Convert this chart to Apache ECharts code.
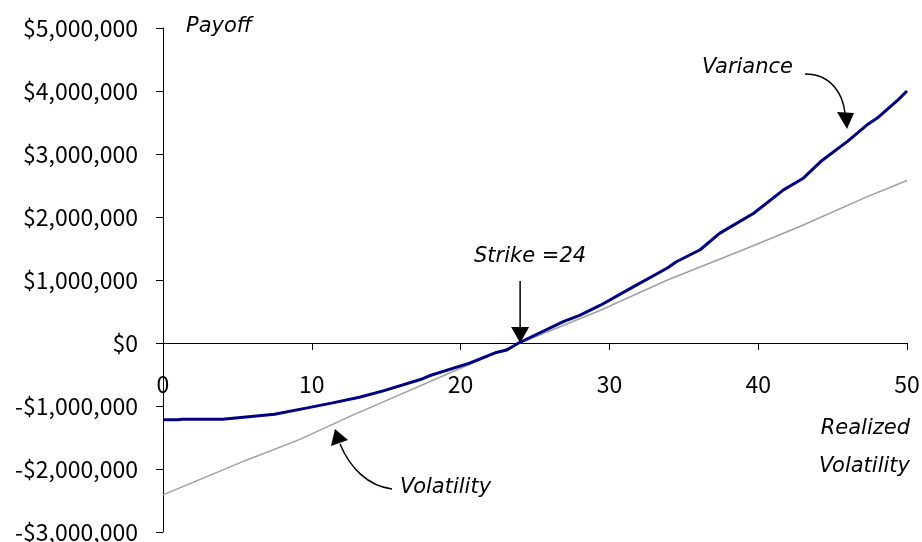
<!DOCTYPE html>
<html>
<head>
<meta charset="utf-8">
<script src="https://cdn.jsdelivr.net/npm/echarts@6/dist/echarts.min.js"></script>
<style>
  html, body { margin: 0; background: #fff; }
  #main { width: 922px; height: 542px; }
</style>
</head>
<body>
<div id="main"></div>
<script>
// realized volatility (x) and payoff in $ (y)
const varianceVol = [0, 1, 1.3, 4, 7.5, 9.7, 11.4, 13.2, 14.8, 17.3, 17.9, 20.6, 22.4, 23.1, 23.9,
  26.9, 28.0, 29.4, 31.6, 33.9, 34.5, 36.1, 37.4, 39.7, 41.7, 43.0, 44.2, 46.0, 47.3, 48.0, 49.4, 50];
const variancePayoff = [-1220000, -1220000, -1210000, -1210000, -1130000, -1030000, -950000, -860000,
  -760000, -580000, -520000, -320000, -150000, -110000, 0, 340000, 440000, 600000, 890000, 1190000,
  1290000, 1480000, 1740000, 2060000, 2430000, 2610000, 2880000, 3200000, 3460000, 3570000, 3860000, 4000000];
const volatilityVol = [0, 5.6, 9.2, 12.6, 20, 22.4, 24, 29.4, 33.9, 39, 42.8, 47.3, 50];
const volatilityPayoff = [-2410000, -1860000, -1530000, -1160000, -400000, -160000, 0,
  520000, 1000000, 1480000, 1850000, 2320000, 2580000];
const strike = 24;
const xTicks = [0, 10, 20, 30, 40, 50];
const yTicks = [-3000000, -2000000, -1000000, 0, 1000000, 2000000, 3000000, 4000000, 5000000];

const numFont = '"Noto Sans CJK SC", sans-serif';
const txtFont = '"DejaVu Sans", sans-serif';

function money(v) {
  return (v < 0 ? '-' : '') + '$' + Math.abs(v).toLocaleString('en-US');
}
function zip(xs, ys) {
  return xs.map((x, i) => [x, ys[i]]);
}

const W = 922, H = 542;
const grid = { left: 163, right: 15, top: 28, bottom: 10 };
const yMin = yTicks[0], yMax = yTicks[yTicks.length - 1];
// lift the x axis (line, ticks, labels) up to the $0 level
const xAxisOffset = -(H - grid.top - grid.bottom) * (0 - yMin) / (yMax - yMin);

const chart = echarts.init(document.getElementById('main'));
chart.setOption({
  animation: false,
  grid: Object.assign({ containLabel: false, outerBoundsMode: 'none' }, grid),
  xAxis: {
    type: 'value',
    position: 'bottom',
    offset: xAxisOffset,
    min: xTicks[0],
    max: xTicks[xTicks.length - 1],
    interval: 10,
    axisLine: { onZero: false, lineStyle: { color: '#000', width: 1 } },
    axisTick: { show: true, inside: false, length: 7, lineStyle: { color: '#000' } },
    axisLabel: { margin: 30, color: '#000', fontFamily: numFont, fontSize: 23 },
    splitLine: { show: false }
  },
  yAxis: {
    type: 'value',
    min: yMin,
    max: yMax,
    interval: 1000000,
    axisLine: { show: true, lineStyle: { color: '#000', width: 1 } },
    axisTick: { show: true, length: 7, lineStyle: { color: '#000' } },
    axisLabel: { margin: 25, color: '#000', fontFamily: numFont, fontSize: 23, formatter: money },
    splitLine: { show: false }
  },
  series: [
    {
      name: 'Volatility',
      type: 'line',
      data: zip(volatilityVol, volatilityPayoff),
      showSymbol: false,
      lineStyle: { color: '#a0a0a0', width: 1.5 }
    },
    {
      name: 'Variance',
      type: 'line',
      data: zip(varianceVol, variancePayoff),
      showSymbol: false,
      lineStyle: { color: '#000080', width: 3 }
    }
  ]
});

// annotations
const tip = chart.convertToPixel({ gridIndex: 0 }, [strike, 0]);
const italic = (text, x, y, align) => ({
  type: 'text',
  style: {
    text: text, x: x, y: y, align: align || 'left', verticalAlign: 'middle',
    font: 'italic 21px ' + txtFont, fill: '#000'
  }
});
chart.setOption({
  graphic: [
    italic('Payoff', 186, 27),
    italic('Variance', 702, 68),
    italic('Strike =24', 474, 257),
    italic('Realized', 910, 429, 'right'),
    italic('Volatility', 910, 467, 'right'),
    italic('Volatility', 400, 488),
    // strike arrow
    { type: 'line', shape: { x1: tip[0], y1: 281, x2: tip[0], y2: tip[1] - 14 }, style: { stroke: '#000', lineWidth: 1.5 } },
    { type: 'polygon', shape: { points: [[tip[0] - 9, tip[1] - 16], [tip[0] + 9, tip[1] - 16], [tip[0], tip[1]]] }, style: { fill: '#000' } },
    // variance arrow
    { type: 'bezierCurve', shape: { x1: 805, y1: 74, cpx1: 832, cpy1: 74, cpx2: 843, cpy2: 95, x2: 845, y2: 113 }, style: { stroke: '#000', lineWidth: 1.5, fill: null } },
    { type: 'polygon', shape: { points: [[837, 112], [854, 113], [847, 129]] }, style: { fill: '#000' } },
    // volatility arrow
    { type: 'bezierCurve', shape: { x1: 340, y1: 444, cpx1: 350, cpy1: 468, cpx2: 368, cpy2: 486, x2: 392, y2: 489 }, style: { stroke: '#000', lineWidth: 1.5, fill: null } },
    { type: 'polygon', shape: { points: [[331, 446], [348, 440], [335, 429]] }, style: { fill: '#000' } }
  ]
});
</script>
</body>
</html>
